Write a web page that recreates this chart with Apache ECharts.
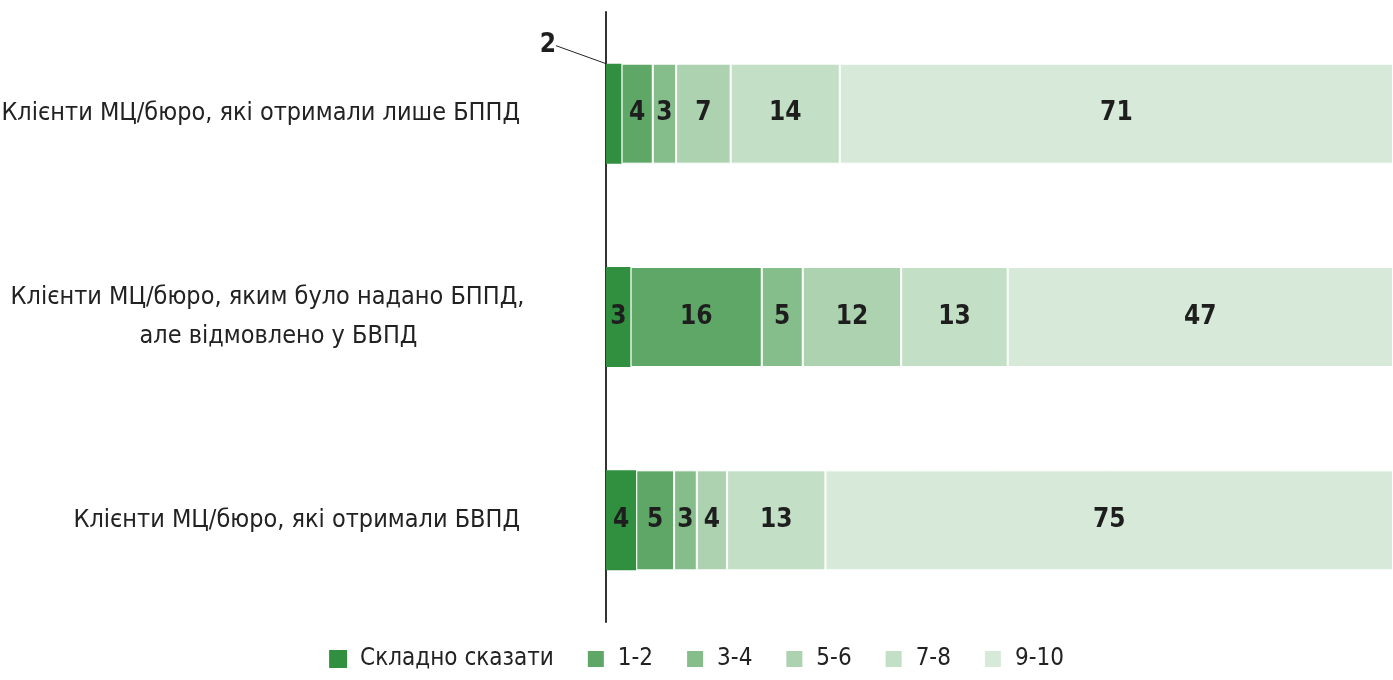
<!DOCTYPE html>
<html>
<head>
<meta charset="utf-8">
<script src="https://cdn.jsdelivr.net/npm/echarts@6/dist/echarts.min.js"></script>
<style>
  html, body { margin: 0; padding: 0; background: #fff; }
  #main { width: 1393px; height: 680px; }
</style>
</head>
<body>
<div id="main"></div>
<script>
const categories = [
	'Клієнти МЦ/бюро, які отримали лише БППД',
	'Клієнти МЦ/бюро, яким було надано БППД,\nале відмовлено у БВПД',
	'Клієнти МЦ/бюро, які отримали БВПД'
];
const seriesNames = ['Складно сказати', '1-2', '3-4', '5-6', '7-8', '9-10'];
const hardToSay = [2, 3, 4];
const score12 = [4, 16, 5];
const score34 = [3, 5, 3];
const score56 = [7, 12, 4];
const score78 = [14, 13, 13];
const score910 = [71, 47, 75];

const colors = ['#30903f', '#5ea766', '#85bd8b', '#acd2b0', '#c3dfc6', '#d7eada'];
const font = '"DejaVu Sans Condensed", sans-serif';

const rows = [hardToSay, score12, score34, score56, score78, score910];
// each bar is shown as share of its row total (rows span the full width)
const totals = categories.map(function (c, i) {
	return rows.reduce(function (s, r) { return s + r[i]; }, 0);
});

const myChart = echarts.init(document.getElementById('main'));

const series = rows.map(function (r, si) {
	return {
		name: seriesNames[si],
		type: 'bar',
		stack: 'all',
		barWidth: 100,
		itemStyle: {
			color: colors[si],
			borderColor: '#fff',
			borderWidth: si === 0 ? 0 : 1
		},
		label: {
			show: true,
			position: 'inside',
			color: '#1e1e1e',
			fontFamily: font,
			fontWeight: 'bold',
			fontSize: 26,
			formatter: function (p) { return p.data.raw; }
		},
		data: r.map(function (v, i) {
			const item = { value: v / totals[i] * 100, raw: v };
			if (si === 0 && i === 0) {
				item.labelLine = { show: true, lineStyle: { color: '#222', width: 1 } };
			}
			return item;
		}),
		labelLayout: si === 0 ? function (p) {
			if (p.dataIndex === 0) return { dx: -66, dy: -68 };
			return {};
		} : undefined
	};
});

option = {
	animation: false,
	color: colors,
	grid: { left: 606, right: 0, top: 12, bottom: 58, outerBoundsMode: 'none' },
	legend: {
		data: seriesNames,
		bottom: 4,
		left: 'center',
		icon: 'rect',
		itemWidth: 18,
		itemHeight: 18,
		itemGap: 32,
		textStyle: { fontFamily: font, fontSize: 24, color: '#222', padding: [0, 0, 0, 8] }
	},
	xAxis: { type: 'value', min: 0, max: 100, show: false },
	yAxis: {
		type: 'category',
		inverse: true,
		data: categories,
		axisLine: { show: true, lineStyle: { color: '#333', width: 2 } },
		axisTick: { show: false },
		axisLabel: {
			margin: 86,
			color: '#222',
			fontFamily: font,
			fontSize: 25,
			align: 'right',
			formatter: function (value, index) {
				if (index === 1) {
					const lines = value.split('\n');
					return '{c|' + lines[0] + '}\n{d|' + lines[1] + '}';
				}
				return value;
			},
			rich: {
				c: { width: 505, align: 'center', fontFamily: font, fontSize: 25, color: '#222', lineHeight: 39 },
				d: { width: 483, align: 'center', padding: [0, 0, 0, 22], fontFamily: font, fontSize: 25, color: '#222', lineHeight: 39 }
			}
		}
	},
	series: series
};

myChart.setOption(option);
</script>
</body>
</html>
